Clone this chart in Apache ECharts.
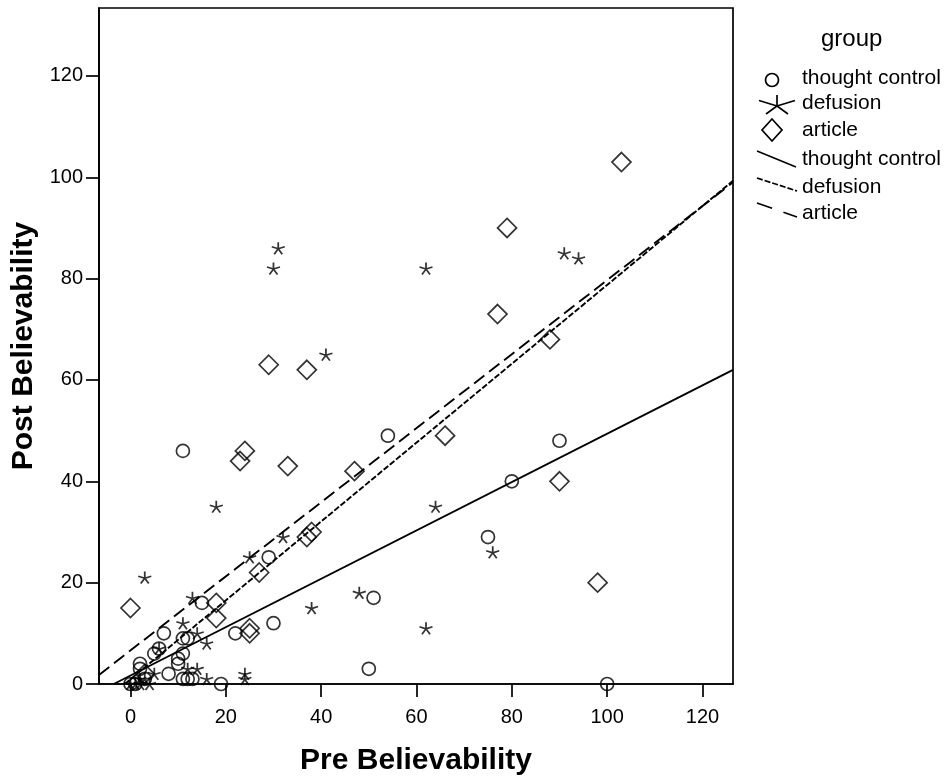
<!DOCTYPE html>
<html><head><meta charset="utf-8">
<script src="https://cdn.jsdelivr.net/npm/echarts@6/dist/echarts.min.js"></script>
<style>html,body{margin:0;padding:0;background:#fff}#c{width:950px;height:776px}</style>
</head><body><div id="c"></div><script>
// ---- data ----
const thoughtControl = [[11,46],[54,49],[90,48],[80,40],[75,29],[29,25],[30,12],[51,17],[50,3],[100,0],[19,0],[15,16],[22,10],[7,10],[11,9],[12,9],[6,7],[11,6],[10,5],[10,4],[2,4],[2,3],[8,2],[11,1],[12,1],[13,1],[3,1],[1,0],[0,0],[5,6]];
const defusion = [[31,86],[30,82],[62,82],[41,65],[91,85],[94,84],[18,35],[64,35],[25,25],[32,29],[76,26],[3,21],[13,17],[38,15],[48,18],[62,11],[24,2],[24,1],[16,1],[16,8],[11,12],[6,7],[14,10],[12,3],[14,3],[5,2],[0,0],[1,0],[2,0],[3,1],[2,1],[4,0]];
const article = [[103,103],[79,90],[77,73],[88,68],[29,63],[37,62],[24,46],[23,44],[33,43],[47,42],[66,49],[90,40],[98,20],[38,30],[37,29],[27,22],[0,15],[18,16],[18,13],[25,11],[25,10],[3,2]];
const fitThoughtControl = [[-3.5,0],[126.4,62]];
const fitDefusion = [[-1.2,0],[126.4,99.3]];
const fitArticle = [[-6.6,1.8],[126.4,99]];
const xTicks = [0,20,40,60,80,100,120];
const yTicks = [0,20,40,60,80,100,120];
const xRange = [-6.6,126.4];
const yRange = [0,133.4];
const groupNames = ['thought control','defusion','article'];

const FONT = 'Liberation Sans, Arial, sans-serif';
const STAR = 'path://M0,-10L0,0M0,0L9.51,-3.09M0,0L5.88,8.09M0,0L-5.88,8.09M0,0L-9.51,-3.09';
const hollow = {color:'rgba(0,0,0,0)', borderColor:'#000', borderWidth:1.7};

const chart = echarts.init(document.getElementById('c'));
function axisCommon(ticks){
  return {
    type:'value',
    axisLine:{show:true,onZero:false,lineStyle:{color:'#000',width:1.7}},
    axisTick:{show:true,customValues:ticks,length:13,lineStyle:{color:'#000',width:1.7}},
    axisLabel:{customValues:ticks,fontSize:20,color:'#000',fontFamily:FONT},
    splitLine:{show:false},
    nameLocation:'middle',
    nameTextStyle:{fontSize:30,fontWeight:'bold',color:'#000',fontFamily:FONT}
  };
}
const xAxis = Object.assign(axisCommon(xTicks),{min:xRange[0],max:xRange[1],name:'Pre Believability',nameGap:62});
xAxis.axisLabel.margin = 23;
const yAxis = Object.assign(axisCommon(yTicks),{min:yRange[0],max:yRange[1],name:'Post Believability',nameGap:48});
yAxis.axisLabel.margin = 16;

// legend drawn as graphic elements
const lx = 772, tx = 802;
const stroke = {stroke:'#000',lineWidth:1.7};
const sc = [777,106];
const starSpokes = [[0,-11],[18,-5.5],[11,8],[-11,8],[-18,-5.5]].map(d=>({
  type:'line',shape:{x1:sc[0],y1:sc[1],x2:sc[0]+d[0],y2:sc[1]+d[1]},style:stroke
}));
const txt = (t,top,left,size) => ({type:'text',left:left||tx,top:top,style:{text:t,font:(size||21)+'px '+FONT,fill:'#000'}});
const legendGraphic = [
  txt('group',27,821,24),
  {type:'circle',shape:{cx:lx,cy:80,r:6.5},style:{fill:'none',stroke:'#000',lineWidth:1.7}},
  txt(groupNames[0],68),
  ...starSpokes,
  txt(groupNames[1],93),
  {type:'polygon',shape:{points:[[lx,119],[lx+10,130],[lx,141],[lx-10,130]]},style:{fill:'none',stroke:'#000',lineWidth:1.7}},
  txt(groupNames[2],120),
  {type:'line',shape:{x1:757,y1:151,x2:796,y2:167},style:stroke},
  txt(groupNames[0],149),
  {type:'line',shape:{x1:757,y1:178,x2:797,y2:191},style:{stroke:'#000',lineWidth:1.7,lineDash:[6,2]}},
  txt(groupNames[1],177),
  {type:'line',shape:{x1:757,y1:203,x2:797,y2:217},style:{stroke:'#000',lineWidth:1.7,lineDash:[16,12]}},
  txt(groupNames[2],203)
];

chart.setOption({
  animation:false,
  backgroundColor:'#fff',
  grid:{left:99,right:217,top:8,bottom:92,show:true,borderColor:'#000',borderWidth:1.7,containLabel:false,outerBoundsMode:'none'},
  xAxis:xAxis,
  yAxis:yAxis,
  graphic:legendGraphic,
  series:[
    {name:groupNames[0],type:'scatter',data:thoughtControl,symbol:'circle',symbolSize:13,itemStyle:hollow,z:3},
    {name:groupNames[1],type:'scatter',data:defusion,symbol:STAR,symbolSize:[13,12],itemStyle:hollow,z:3},
    {name:groupNames[2],type:'scatter',data:article,symbol:'diamond',symbolSize:[19,19],itemStyle:hollow,z:3},
    {name:groupNames[0]+' fit',type:'line',data:fitThoughtControl,symbol:'none',clip:true,lineStyle:{color:'#000',width:1.9,type:'solid'},z:2},
    {name:groupNames[1]+' fit',type:'line',data:fitDefusion,symbol:'none',clip:true,lineStyle:{color:'#000',width:1.9,type:[6,2]},z:2},
    {name:groupNames[2]+' fit',type:'line',data:fitArticle,symbol:'none',clip:true,lineStyle:{color:'#000',width:1.9,type:[13,6]},z:2}
  ]
});
</script></body></html>
